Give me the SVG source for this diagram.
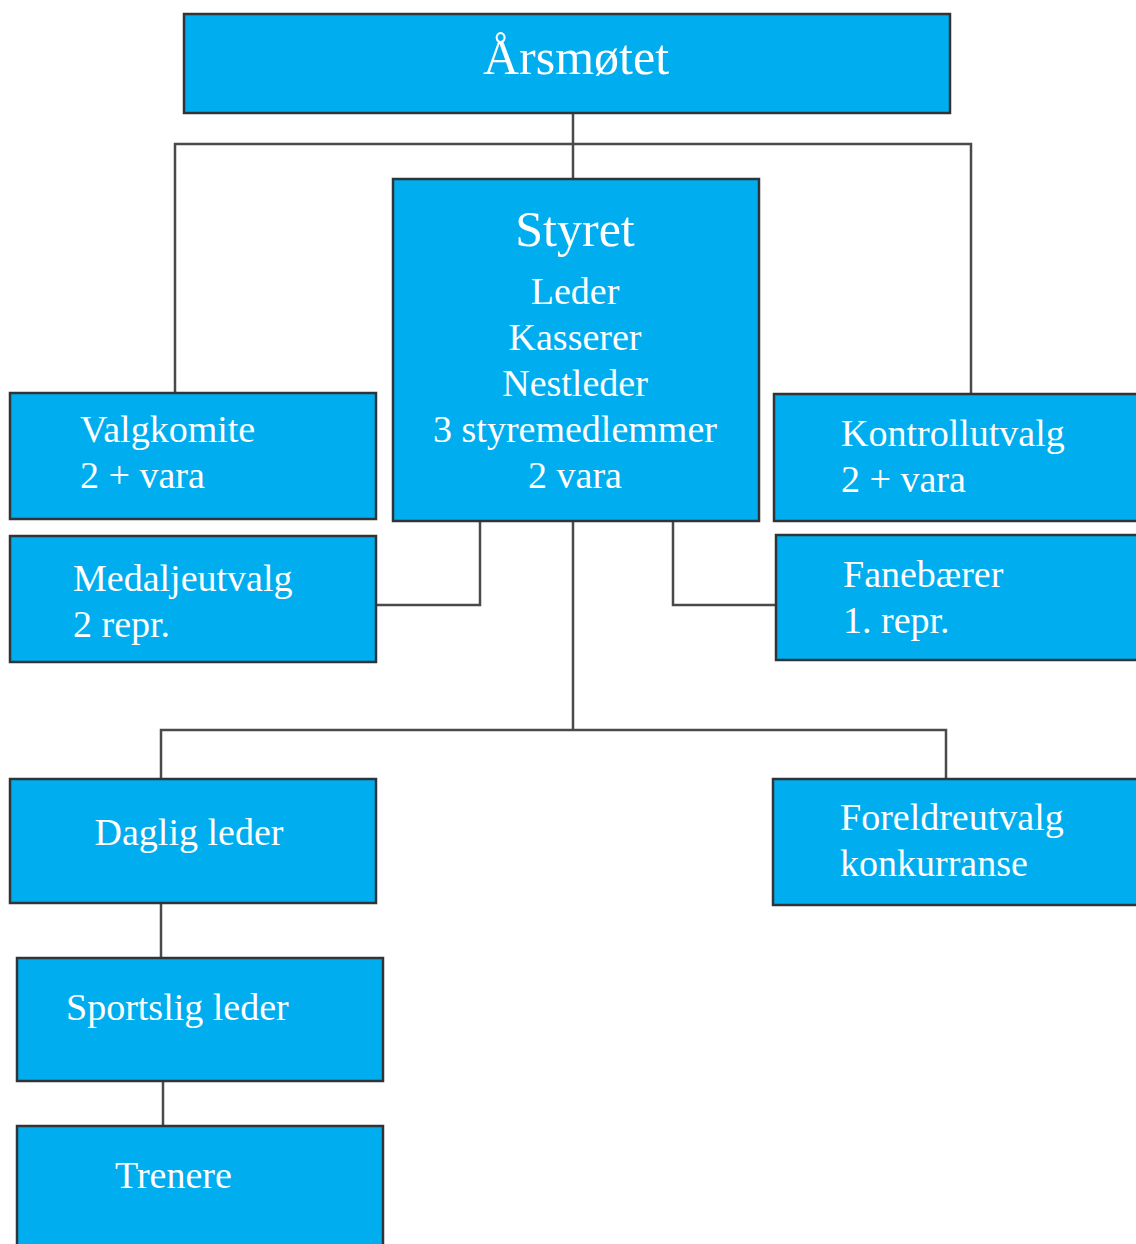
<svg xmlns="http://www.w3.org/2000/svg" width="1136" height="1244" viewBox="0 0 1136 1244">
<style>
.box{fill:#00AEEF;stroke:#2f3438;stroke-width:2.5}
.t{fill:#fff;font-family:"Liberation Serif","Times New Roman",serif;font-size:38px}
.big{font-size:50px}
.c{text-anchor:middle}
.ln{fill:none;stroke:#4a4a4a;stroke-width:2.5}
</style>
<rect width="1136" height="1244" fill="#fff"/>
<g id="connectors">
<path class="ln" d="M573 113V180"/>
<path class="ln" d="M175 393V144H971V394"/>
<path class="ln" d="M480 521V605H376"/>
<path class="ln" d="M673 521V605H776"/>
<path class="ln" d="M573 521V730"/>
<path class="ln" d="M161 779V730H946V779"/>
<path class="ln" d="M161 903V958"/>
<path class="ln" d="M163 1081V1126"/>
</g>
<g id="arsmotet">
<rect class="box" x="184" y="14" width="766" height="99"/>
<text class="t c big" x="576" y="74">Årsmøtet</text>
</g>
<g id="styret">
<rect class="box" x="393" y="179" width="366" height="342"/>
<text class="t c big" x="575" y="246">Styret</text>
<text class="t c" x="575" y="304">Leder</text>
<text class="t c" x="575" y="350">Kasserer</text>
<text class="t c" x="575" y="396">Nestleder</text>
<text class="t c" x="575" y="442">3 styremedlemmer</text>
<text class="t c" x="575" y="488">2 vara</text>
</g>
<g id="valgkomite">
<rect class="box" x="10" y="393" width="366" height="126"/>
<text class="t" x="80" y="442">Valgkomite</text>
<text class="t" x="80" y="488">2 + vara</text>
</g>
<g id="medaljeutvalg">
<rect class="box" x="10" y="536" width="366" height="126"/>
<text class="t" x="73" y="591">Medaljeutvalg</text>
<text class="t" x="73" y="637">2 repr.</text>
</g>
<g id="kontrollutvalg">
<rect class="box" x="774" y="394" width="370" height="127"/>
<text class="t" x="841" y="446">Kontrollutvalg</text>
<text class="t" x="841" y="492">2 + vara</text>
</g>
<g id="fanebaerer">
<rect class="box" x="776" y="535" width="370" height="125"/>
<text class="t" x="843" y="587">Fanebærer</text>
<text class="t" x="843" y="633">1. repr.</text>
</g>
<g id="daglig-leder">
<rect class="box" x="10" y="779" width="366" height="124"/>
<text class="t c" x="189" y="845">Daglig leder</text>
</g>
<g id="foreldreutvalg">
<rect class="box" x="773" y="779" width="373" height="126"/>
<text class="t" x="840" y="830">Foreldreutvalg</text>
<text class="t" x="840" y="876">konkurranse</text>
</g>
<g id="sportslig-leder">
<rect class="box" x="17" y="958" width="366" height="123"/>
<text class="t" x="66" y="1020">Sportslig leder</text>
</g>
<g id="trenere">
<rect class="box" x="17" y="1126" width="366" height="130"/>
<text class="t" x="115" y="1188">Trenere</text>
</g>
</svg>
